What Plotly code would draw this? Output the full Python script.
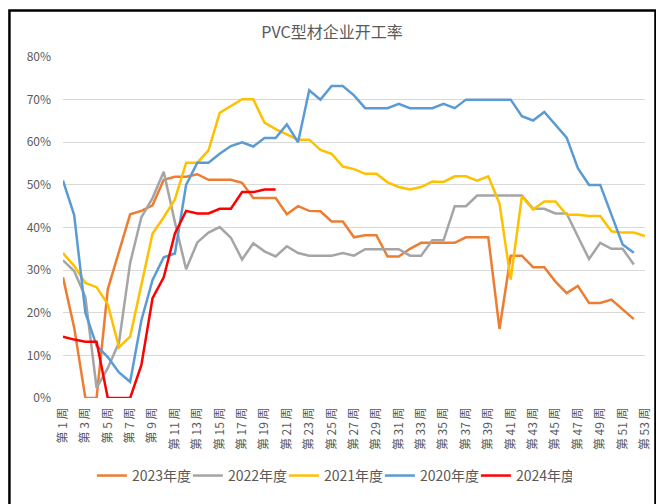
import plotly.graph_objects as go

weeks = [f"第{n}周" for n in range(1, 54)]
tick_weeks = [f"第{n}周" for n in range(1, 54, 2)]
tick_text = [f"第 {n} 周" for n in range(1, 54, 2)]

y2023 = [28.3, 16.5, 0, 0, 25.5, 34.4, 43.1, 43.9, 45.2, 51.2, 51.9, 51.9, 52.5, 51.2, 51.2, 51.2, 50.5,
         46.9, 46.9, 46.9, 43.1, 45.0, 43.9, 43.8, 41.4, 41.4, 37.7, 38.2, 38.2, 33.2, 33.2, 35.0, 36.4,
         36.4, 36.4, 36.4, 37.7, 37.7, 37.7, 16.2, 33.4, 33.4, 30.7, 30.7, 27.3, 24.6, 26.3, 22.3, 22.3,
         23.1, 20.8, 18.5, None]
y2022 = [32.3, 29.8, 23.7, 2.4, 7.0, 13.0, 31.7, 42.4, 46.9, 53.1, 41.2, 30.2, 36.5, 38.8, 40.1, 37.6, 32.5,
         36.3, 34.4, 33.2, 35.6, 34.0, 33.4, 33.4, 33.4, 34.0, 33.4, 34.9, 34.9, 34.9, 34.9, 33.4, 33.4,
         37.0, 37.0, 45.0, 45.0, 47.5, 47.5, 47.5, 47.5, 47.5, 44.4, 44.4, 43.3, 43.3, 37.9, 32.6, 36.4,
         35.0, 35.0, 31.3, None]
y2021 = [34.0, 31.0, 27.0, 26.0, 22.0, 11.9, 14.4, 26.5, 38.6, 42.4, 46.6, 55.2, 55.2, 58.1, 66.9, 68.5, 70.1,
         70.1, 64.6, 63.1, 61.9, 60.6, 60.6, 58.2, 57.3, 54.3, 53.7, 52.6, 52.6, 50.6, 49.5, 48.9, 49.5,
         50.8, 50.7, 52.0, 52.0, 51.0, 52.0, 45.6, 27.8, 47.3, 44.2, 46.1, 46.1, 43.0, 43.0, 42.7, 42.7,
         39.1, 38.8, 38.8, 38.0]
y2020 = [51.0, 42.9, 20.0, 12.3, 9.6, 6.0, 3.8, 18.2, 27.7, 33.0, 33.9, 50.0, 55.2, 55.2, 57.3, 59.1, 60.0,
         59.0, 61.0, 61.0, 64.2, 60.0, 72.2, 70.0, 73.2, 73.2, 71.0, 68.0, 68.0, 68.0, 69.0, 68.0, 68.0,
         68.0, 69.0, 68.0, 70.0, 70.0, 70.0, 70.0, 70.0, 66.1, 65.1, 67.1, 64.2, 61.1, 53.9, 50.0, 50.0,
         42.9, 36.0, 34.1, None]
y2024 = [14.4, 13.7, 13.2, 13.2, 0, 0, 0, 7.7, 23.4, 28.3, 38.6, 43.9, 43.3, 43.3, 44.4, 44.4, 48.3,
         48.3, 48.9, 48.9]

series = [
    ("2023年度", y2023, "#ED7D31"),
    ("2022年度", y2022, "#A5A5A5"),
    ("2021年度", y2021, "#FFC000"),
    ("2020年度", y2020, "#5B9BD5"),
    ("2024年度", y2024, "#FF0000"),
]

fig = go.Figure()
for name, vals, color in series:
    fig.add_trace(go.Scatter(
        x=weeks[:len(vals)], y=vals, name=name, mode="lines",
        line=dict(color=color, width=2.5), connectgaps=False,
    ))

font_family = "Noto Sans CJK SC"
grey = "#595959"

W, H = 656, 496
L, R, T, B = 55, 17, 49, 97
PW = W - L - R
PH = H - T - B

fig.update_layout(
    width=W, height=H,
    margin=dict(l=L, r=R, t=T, b=B),
    paper_bgcolor="white", plot_bgcolor="white",
    font=dict(family=font_family, color=grey),
    title=dict(text="PVC型材企业开工率", x=324 / W, xref="container", xanchor="center",
               y=1 - 24 / H, yref="container", yanchor="middle",
               font=dict(size=16, color=grey, family=font_family)),
    showlegend=True,
    legend=dict(orientation="h", x=(84 - L) / PW, xanchor="left",
                y=(T + PH - 479) / PH, yanchor="middle",
                entrywidth=51, entrywidthmode="pixels",
                font=dict(size=14, color=grey), traceorder="normal"),
    shapes=[dict(type="rect", xref="paper", yref="paper",
                 x0=(1.25 - L) / PW, x1=(649.5 - L) / PW,
                 y0=(T + PH - 1.25) / PH, y1=(T + PH - 560) / PH,
                 line=dict(color="black", width=2.5), fillcolor="rgba(0,0,0,0)", layer="above")],
)

fig.update_xaxes(
    type="category", categoryorder="array", categoryarray=weeks,
    tickmode="array", tickvals=tick_weeks, ticktext=tick_text,
    tickangle=-90, tickfont=dict(size=12, color=grey),
    showgrid=False, showline=False, zeroline=False, ticks="",
    ticklabelstandoff=6,
)
fig.update_yaxes(
    range=[0, 80], dtick=10, ticksuffix="%",
    tickfont=dict(size=12, color=grey),
    showgrid=True, gridcolor="#D9D9D9", gridwidth=1,
    zeroline=False, showline=False, ticks="",
    ticklabelstandoff=11,
)

fig.write_html("out.html")
